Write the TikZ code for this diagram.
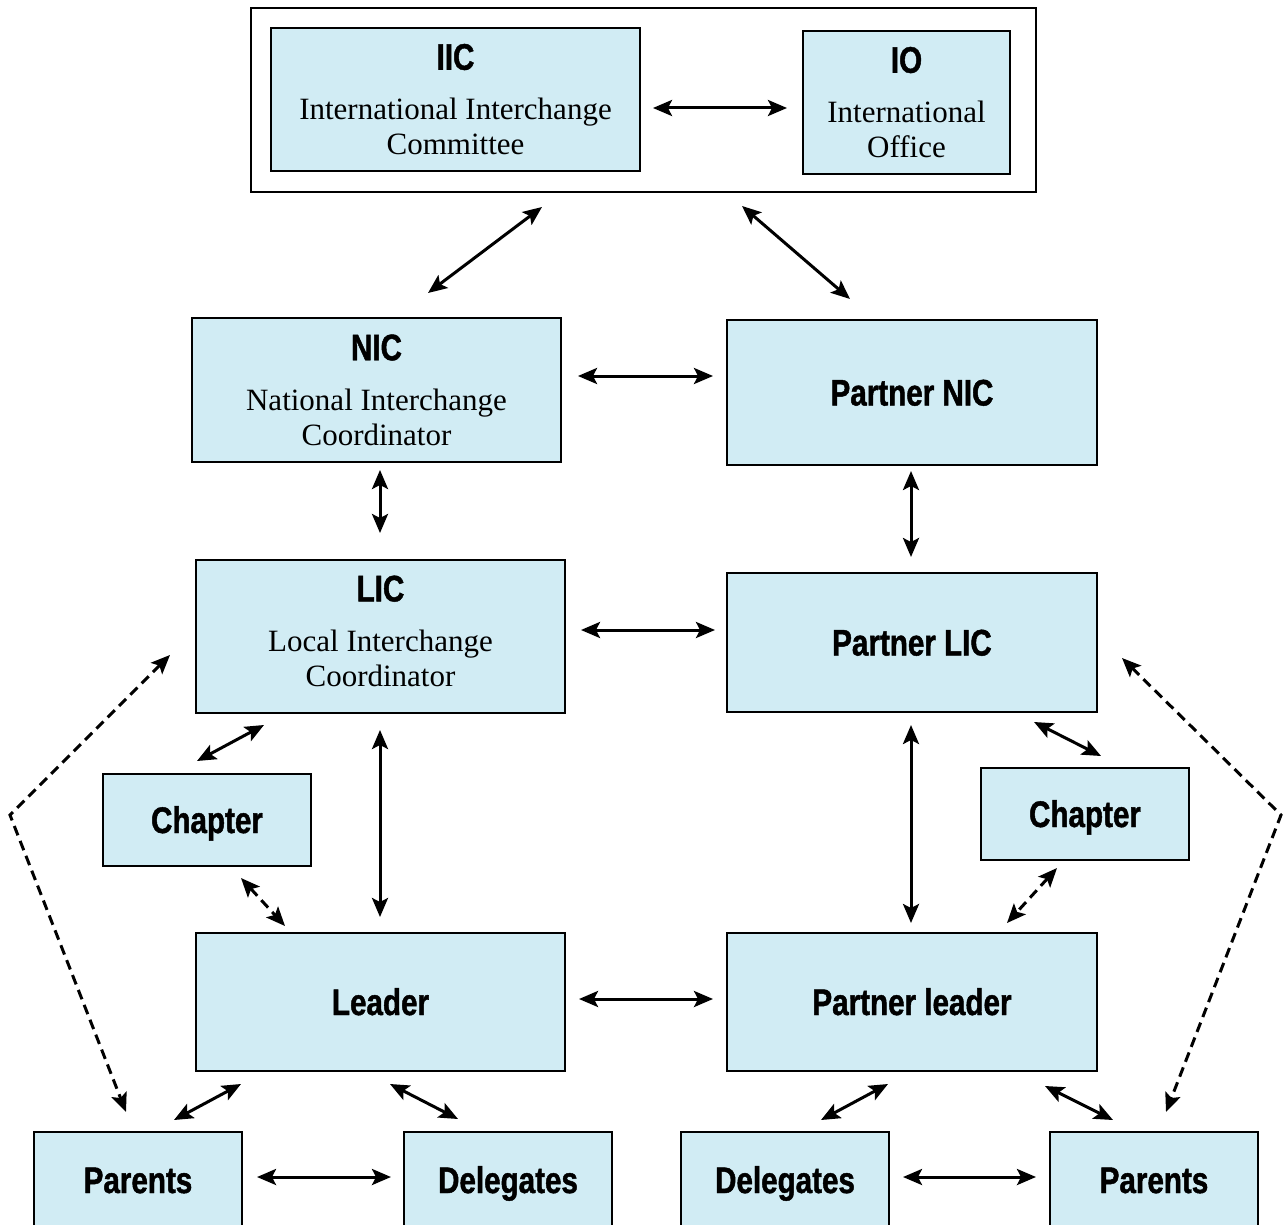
\documentclass[tikz,border=0pt]{standalone}
\usepackage{fontspec}
\setmainfont{Liberation Serif}
\newfontfamily\bsf[FakeStretch=0.8,FakeBold=1.2]{Liberation Sans}
\usetikzlibrary{arrows.meta,calc}
\definecolor{boxfill}{RGB}{209,236,244}
\newcommand{\ttl}[1]{{\bsf\bfseries\fontsize{37}{40}\selectfont #1}}
\tikzset{bighead/.tip={Stealth[length=19pt,width=16pt,inset=4pt]}}
\begin{document}
\begin{tikzpicture}[x=1pt,y=-1pt,
  box/.style={draw=black, line width=2pt, fill=boxfill, inner sep=0pt, align=center, font=\fontsize{31}{35}\selectfont},
  onebox/.style={box, text height=26pt, text depth=0pt},
  frame/.style={draw=black, line width=2pt, inner sep=0pt},
  arr/.style={line width=3pt, arrows={bighead-bighead}},
  darr/.style={arr, dash pattern=on 10pt off 6pt},
]
\clip (0,0) rectangle (1284,1225);
% boxes
\node[frame, minimum width=785pt, minimum height=184pt] (top) at (643.5,100) {};
\node[box, minimum width=369pt, minimum height=143pt] (iic) at (455.5,99.5) {\ttl{IIC}\\[15pt]International Interchange\\Committee};
\node[box, minimum width=207pt, minimum height=143pt] (io) at (906.5,102.5) {\ttl{IO}\\[15pt]International\\Office};
\node[box, minimum width=369pt, minimum height=144pt] (nic) at (376.5,390) {\ttl{NIC}\\[15pt]National Interchange\\Coordinator};
\node[onebox, minimum width=370pt, minimum height=145pt] (pnic) at (912,392.5) {\ttl{Partner NIC}};
\node[box, text depth=11pt, minimum width=369pt, minimum height=153pt] (lic) at (380.5,636.5) {\ttl{LIC}\\[15pt]Local Interchange\\Coordinator};
\node[onebox, minimum width=370pt, minimum height=139pt] (plic) at (912,642.5) {\ttl{Partner LIC}};
\node[onebox, minimum width=208pt, minimum height=92pt] (chapL) at (207,820) {\ttl{Chapter}};
\node[onebox, minimum width=208pt, minimum height=92pt] (chapR) at (1085,814) {\ttl{Chapter}};
\node[onebox, minimum width=369pt, minimum height=138pt] (leader) at (380.5,1002) {\ttl{Leader}};
\node[onebox, minimum width=370pt, minimum height=138pt] (pleader) at (912,1002) {\ttl{Partner leader}};
\node[onebox, minimum width=208pt, minimum height=96pt] (parL) at (138,1180) {\ttl{Parents}};
\node[onebox, minimum width=208pt, minimum height=96pt] (delL) at (508,1180) {\ttl{Delegates}};
\node[onebox, minimum width=208pt, minimum height=96pt] (delR) at (785,1180) {\ttl{Delegates}};
\node[onebox, minimum width=208pt, minimum height=96pt] (parR) at (1154,1180) {\ttl{Parents}};
\coordinate (cl) at (10,815);
\coordinate (cr) at (1281,815);
% connectors
\draw[arr] ([shift={(12,8.5)}]iic.east) -- ([shift={(-15,5.5)}]io.west);
\draw[arr] ([shift={(-101.5,14)}]top.south) -- ([shift={(51.5,-24)}]nic.north);
\draw[arr] ([shift={(98.5,13)}]top.south) -- ([shift={(-62,-20)}]pnic.north);
\draw[arr] ([shift={(16,-14)}]nic.east) -- ([shift={(-13,-16.5)}]pnic.west);
\draw[arr] ([shift={(3.5,7)}]nic.south) -- ([shift={(-0.5,-26)}]lic.north);
\draw[arr] ([shift={(-1,5)}]pnic.south) -- ([shift={(-1,-15)}]plic.north);
\draw[arr] ([shift={(15,-6.5)}]lic.east) -- ([shift={(-11,-12.5)}]plic.west);
\draw[arr] ([shift={(-116.5,11)}]lic.south) -- ([shift={(-10,-12)}]chapL.north);
\draw[darr] ([shift={(34,11)}]chapL.south) -- ([shift={(-95.5,-6)}]leader.north);
\draw[arr] ([shift={(-0.5,16)}]lic.south) -- ([shift={(-0.5,-15)}]leader.north);
\draw[arr] ([shift={(-1,12)}]plic.south) -- ([shift={(-1,-9)}]pleader.north);
\draw[arr] ([shift={(122,9)}]plic.south) -- ([shift={(16,-11)}]chapR.north);
\draw[darr] ([shift={(-28,7)}]chapR.south) -- ([shift={(95,-9)}]pleader.north);
\draw[arr] ([shift={(13,-3)}]leader.east) -- ([shift={(-13,-3)}]pleader.west);
\draw[arr] ([shift={(-139.5,12)}]leader.south) -- ([shift={(36,-11)}]parL.north);
\draw[arr] ([shift={(9.5,12)}]leader.south) -- ([shift={(-50,-12)}]delL.north);
\draw[arr] ([shift={(14,-3)}]parL.east) -- ([shift={(-12,-3)}]delL.west);
\draw[arr] ([shift={(-24,12)}]pleader.south) -- ([shift={(36,-11)}]delR.north);
\draw[arr] ([shift={(133,14)}]pleader.south) -- ([shift={(-41,-11)}]parR.north);
\draw[arr] ([shift={(13,-3)}]delR.east) -- ([shift={(-13,-3)}]parR.west);
\draw[darr] ([shift={(-25,18.5)}]lic.west) -- (cl) -- ([shift={(-12,-19)}]parL.north);
\draw[darr] ([shift={(24,15.5)}]plic.east) -- (cr) -- ([shift={(12,-19)}]parR.north);
\end{tikzpicture}
\end{document}
